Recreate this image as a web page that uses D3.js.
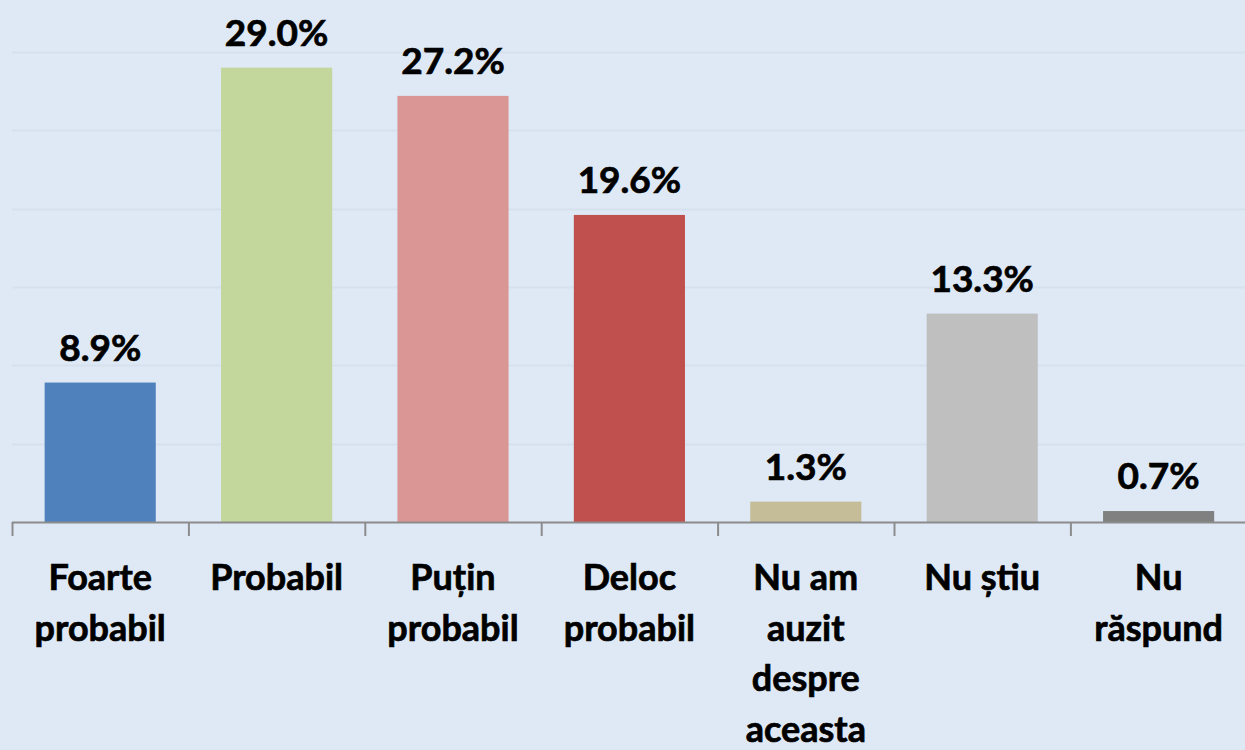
<!DOCTYPE html>
<html><head><meta charset="utf-8">
<script src="https://cdn.jsdelivr.net/npm/d3@7"></script>
<style>
html,body{margin:0;padding:0;background:#dee9f5;}
svg{display:block;}
text{font-family:Lato,"Open Sans",sans-serif;font-weight:bold;fill:#000;stroke:#000;stroke-width:0.7px;}
</style></head>
<body>
<svg id="chart" width="1245" height="750"></svg>
<script>
const categories = [["Foarte","probabil"],["Probabil"],["Puțin","probabil"],["Deloc","probabil"],["Nu am","auzit","despre","aceasta"],["Nu știu"],["Nu","răspund"]];
const values = [8.9, 29.0, 27.2, 19.6, 1.3, 13.3, 0.7];
const colors = ["#4f81bd","#c3d69b","#d99694","#c0504d","#c4bd97","#bfbfbf","#808080"];
const gridTicks = [5, 10, 15, 20, 25, 30];

const svg = d3.select("#chart");
const W = 1245, H = 750;
svg.append("rect").attr("width",W).attr("height",H).attr("fill","#dee9f5");

const x = d3.scaleBand().domain(d3.range(values.length)).range([12, 12 + 176.4*7]).paddingInner(0.37).paddingOuter(0.185);
const y = d3.scaleLinear().domain([0,30]).range([522, 52]);

svg.append("g").selectAll("line").data(gridTicks).join("line")
  .attr("x1",12).attr("x2",W).attr("y1",d=>Math.round(y(d))+0.5).attr("y2",d=>Math.round(y(d))+0.5)
  .attr("stroke","#d5e1ee").attr("stroke-width",2);

svg.append("g").selectAll("rect").data(values).join("rect")
  .attr("x",(d,i)=>x(i)).attr("width",x.bandwidth())
  .attr("y",d=>y(d)).attr("height",d=>y(0)-y(d))
  .attr("fill",(d,i)=>colors[i]);

// axis
const step = x.step();
const axisG = svg.append("g");
axisG.append("line").attr("x1",12).attr("x2",W).attr("y1",y(0)+0.5).attr("y2",y(0)+0.5).attr("stroke","#8c8c8c").attr("stroke-width",2);
axisG.selectAll("line.tick").data(d3.range(values.length+1)).join("line").attr("class","tick")
  .attr("x1",i=>12+i*step+0.5).attr("x2",i=>12+i*step+0.5).attr("y1",y(0)).attr("y2",y(0)+14)
  .attr("stroke","#8c8c8c").attr("stroke-width",2);

svg.append("g").selectAll("text").data(values).join("text")
  .attr("x",(d,i)=>x(i)+x.bandwidth()/2).attr("y",d=>y(d)-22)
  .attr("text-anchor","middle").attr("font-size",37)
  .text(d=>d.toFixed(1)+"%");

const lab = svg.append("g").selectAll("text").data(categories).join("text")
  .attr("x",(d,i)=>x(i)+x.bandwidth()/2).attr("y",590)
  .attr("text-anchor","middle").attr("font-size",36);
lab.selectAll("tspan").data(d=>d).join("tspan")
  .attr("x",function(){return this.parentNode.getAttribute("x");})
  .attr("dy",(d,j)=>j===0?0:50.5).text(d=>d);
</script>
</body></html>
